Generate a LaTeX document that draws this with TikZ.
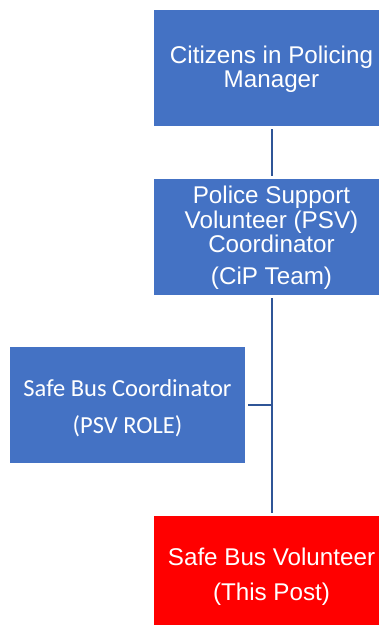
\documentclass[tikz,border=0pt]{standalone}
\usepackage{fontspec}
\setmainfont{Liberation Sans}
\newfontfamily\calib{Carlito}
\definecolor{boxblue}{HTML}{4472C4}
\definecolor{linkblue}{HTML}{2F5597}
\definecolor{postred}{HTML}{FF0000}
\begin{document}
\begin{tikzpicture}[x=1pt,y=-1pt,
  box/.style={fill=boxblue, minimum width=235pt, minimum height=116pt, inner sep=0pt},
  lbl/.style={text=white, inner sep=0pt, align=center, font=\fontsize{24.2}{24.5}\selectfont},
  lblc/.style={lbl, font=\calib\fontsize{24.5}{29}\selectfont},
  link/.style={draw=linkblue, line width=2pt}]
\useasboundingbox (0,0) rectangle (379,625);
\clip (0,0) rectangle (379,625);
\node[box] (mgr) at (271.5,68) {};
\node[box] (coord) at (271.5,237) {};
\node[box] (sbc) at (127.5,405) {};
\node[box, fill=postred] (vol) at (271.5,574) {};
\node[lbl] (mgrt) at ([yshift=-1pt]mgr.center) {Citizens in Policing\\Manager};
\node[lbl] (coordt) at ([yshift=-1pt]coord.center) {Police Support\\Volunteer (PSV)\\Coordinator\\[7.5pt](CiP Team)};
\node[lblc] (sbct) at ([yshift=-3pt]sbc.center) {Safe Bus Coordinator\\[8pt](PSV ROLE)};
\node[lbl] (volt) at ([yshift=-2.5pt]vol.center) {Safe Bus Volunteer\\[10pt](This Post)};
\draw[link] ([yshift=-3pt]mgr.south) -- ([yshift=3pt]coord.north);
\draw[link] ([yshift=-3pt]coord.south) -- ([yshift=3pt]vol.north);
\coordinate (j) at (coord.south |- sbc.east);
\draw[link] ([xshift=3pt]sbc.east) -- (j);
\end{tikzpicture}
\end{document}
